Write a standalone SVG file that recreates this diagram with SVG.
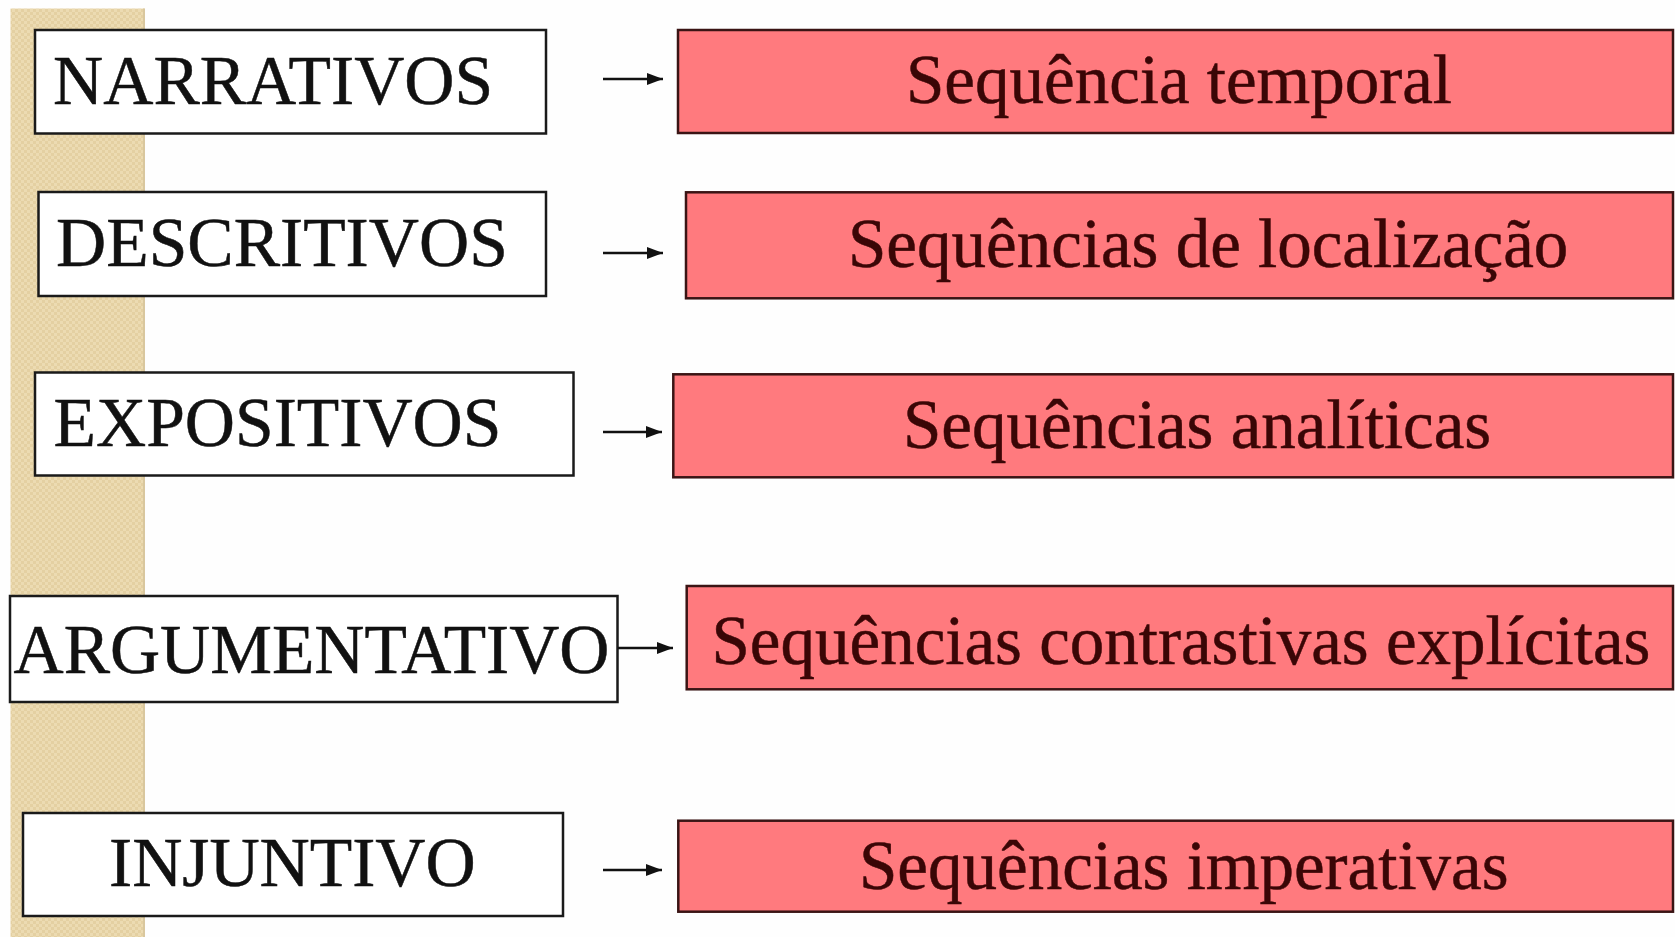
<svg xmlns="http://www.w3.org/2000/svg" width="1675" height="937" viewBox="0 0 1675 937">
<defs>
<pattern id="chk" width="6" height="6" patternUnits="userSpaceOnUse">
<rect width="6" height="6" fill="#ECDBB2"/>
<rect width="3" height="3" fill="#E4D0A2"/>
<rect x="3" y="3" width="3" height="3" fill="#E4D0A2"/>
</pattern>
<marker id="ah" markerUnits="userSpaceOnUse" markerWidth="18" markerHeight="14" refX="16" refY="6" orient="auto">
<path d="M0,0 L16,6 L0,12 z" fill="#111"/>
</marker>
<style>
.lbox{fill:#ffffff;stroke:#1a1a1a;stroke-width:2.5}
.rbox{fill:#FF7A7E;stroke:#3a1414;stroke-width:2.5}
.ltxt{font-family:"Liberation Serif","Times New Roman",serif;font-size:69.5px;fill:#111;stroke:#111;stroke-width:0.5}
.rtxt{font-family:"Liberation Serif","Times New Roman",serif;font-size:69px;fill:#3a0606;stroke:#3a0606;stroke-width:0.5}
.conn{stroke:#111;stroke-width:2.5;fill:none;marker-end:url(#ah)}
</style>
</defs>
<rect width="1675" height="937" fill="#fefefe"/>
<rect x="10.5" y="8.5" width="134" height="930" fill="url(#chk)"/>
<line x1="144" y1="8.5" x2="144" y2="937" stroke="#D9C79E" stroke-width="2"/>

<g id="n-narrativos">
<rect class="lbox" x="35" y="30" width="511" height="103.5"/>
<text class="ltxt" x="53" y="104">NARRATIVOS</text>
</g>
<g id="n-descritivos">
<rect class="lbox" x="38.5" y="192" width="507.5" height="104"/>
<text class="ltxt" x="56" y="266">DESCRITIVOS</text>
</g>
<g id="n-expositivos">
<rect class="lbox" x="35" y="372.5" width="538.5" height="103"/>
<text class="ltxt" x="53.5" y="446">EXPOSITIVOS</text>
</g>
<g id="n-argumentativo">
<rect class="lbox" x="10" y="596" width="607.5" height="106"/>
<text class="ltxt" x="13.5" y="673" textLength="596" lengthAdjust="spacingAndGlyphs">ARGUMENTATIVO</text>
</g>
<g id="n-injuntivo">
<rect class="lbox" x="23" y="813" width="540" height="103"/>
<text class="ltxt" x="109" y="886">INJUNTIVO</text>
</g>

<g id="r-temporal">
<rect class="rbox" x="678" y="30" width="995" height="103"/>
<text class="rtxt" x="906" y="103">Sequência temporal</text>
</g>
<g id="r-localizacao">
<rect class="rbox" x="686" y="192.3" width="987" height="106"/>
<text class="rtxt" x="848" y="267">Sequências de localização</text>
</g>
<g id="r-analiticas">
<rect class="rbox" x="673.3" y="374.3" width="999.7" height="103"/>
<text class="rtxt" x="903" y="448">Sequências analíticas</text>
</g>
<g id="r-contrastivas">
<rect class="rbox" x="686.7" y="586" width="986.3" height="103.3"/>
<text class="rtxt" x="711.5" y="664">Sequências contrastivas explícitas</text>
</g>
<g id="r-imperativas">
<rect class="rbox" x="678.3" y="820.7" width="994.7" height="91"/>
<text class="rtxt" x="859" y="889">Sequências imperativas</text>
</g>

<g id="connectors">
<line class="conn" x1="603" y1="79" x2="663" y2="79"/>
<line class="conn" x1="603" y1="253" x2="663" y2="253"/>
<line class="conn" x1="603" y1="432" x2="662" y2="432"/>
<line class="conn" x1="618" y1="648" x2="673" y2="648"/>
<line class="conn" x1="603" y1="870" x2="662" y2="870"/>
</g>
</svg>
